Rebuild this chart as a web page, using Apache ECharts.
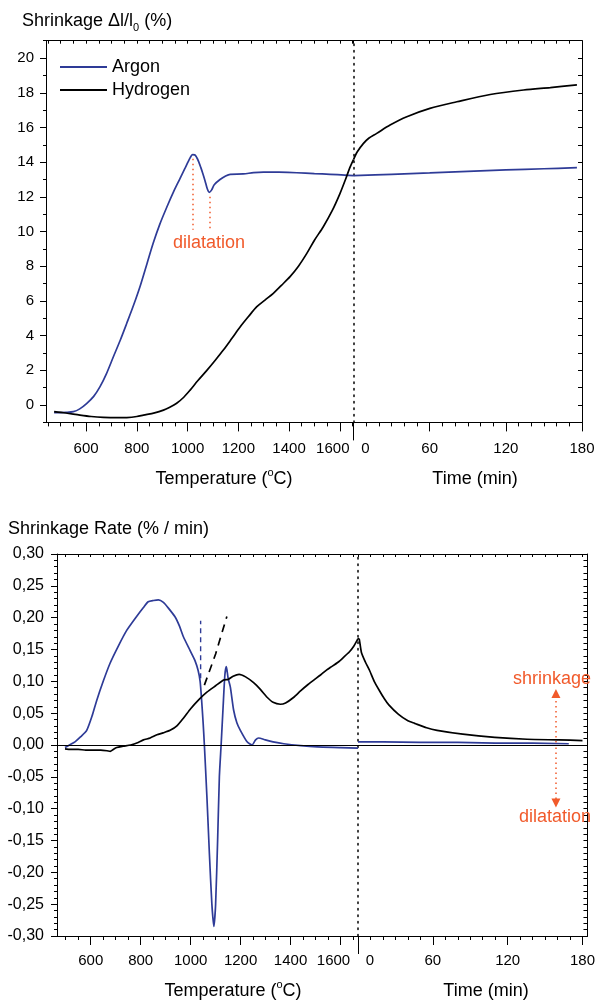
<!DOCTYPE html>
<html><head><meta charset="utf-8">
<script src="https://cdn.jsdelivr.net/npm/echarts@6/dist/echarts.min.js"></script>
<style>html,body{margin:0;padding:0;background:#fff}#c{width:598px;height:1001px}</style>
</head><body><div id="c"></div>
<script>
// ---------------- data ----------------
const tempTicks = [600, 800, 1000, 1200, 1400, 1600];
const timeTicks = [0, 60, 120, 180];
const shrinkTicks = [0, 2, 4, 6, 8, 10, 12, 14, 16, 18, 20];
const rateTicks = [-0.30, -0.25, -0.20, -0.15, -0.10, -0.05, 0, 0.05, 0.10, 0.15, 0.20, 0.25, 0.30];

// Shrinkage (%) vs temperature (°C) and vs time (min)
const argonShrinkTemp = [[474,-0.44],[520,-0.42],[550,-0.38],[575,-0.22],[603,0.1],[630,0.5],[655,1.06],[680,1.8],[708,2.8],[735,3.75],[760,4.7],[787,5.75],[813,6.85],[840,8.15],[865,9.35],[890,10.4],[918,11.4],[945,12.3],[970,13.05],[990,13.65],[1003,14.05],[1012,14.3],[1020,14.43],[1028,14.42],[1036,14.27],[1044,14.02],[1052,13.7],[1060,13.35],[1069,12.92],[1078,12.45],[1086,12.26],[1095,12.4],[1105,12.7],[1128,13.0],[1150,13.2],[1168,13.3],[1220,13.32],[1260,13.4],[1299,13.43],[1360,13.42],[1430,13.39],[1500,13.34],[1562,13.3],[1620,13.25],[1654,13.22]];
const argonShrinkTime = [[0,13.22],[30,13.3],[60,13.38],[90,13.47],[120,13.55],[150,13.62],[176,13.68]];
const hydrogenShrinkTemp = [[474,-0.38],[520,-0.46],[576,-0.58],[620,-0.66],[668,-0.71],[720,-0.73],[760,-0.72],[800,-0.66],[826,-0.58],[870,-0.45],[905,-0.29],[930,-0.12],[957,0.1],[985,0.45],[1010,0.86],[1040,1.4],[1076,2.0],[1110,2.6],[1141,3.17],[1175,3.85],[1207,4.5],[1240,5.1],[1273,5.67],[1305,6.05],[1338,6.44],[1370,6.9],[1404,7.4],[1437,8.0],[1470,8.74],[1500,9.5],[1535,10.28],[1570,11.2],[1601,12.2],[1625,13.1],[1640,13.7],[1654,14.15]];
const hydrogenShrinkTime = [[0,14.15],[3,14.6],[7.7,15.07],[12,15.38],[18.3,15.66],[28.8,16.14],[42,16.62],[60.2,17.1],[81.4,17.48],[107.7,17.9],[134,18.16],[155,18.3],[176,18.45]];

// Shrinkage rate (%/min) vs temperature and vs time
const argonRateTemp = [[497,-0.004],[515,0.0],[537,0.005],[560,0.013],[584,0.023],[605,0.045],[624,0.07],[650,0.1],[677,0.128],[710,0.155],[744,0.18],[780,0.2],[811,0.216],[830,0.225],[851,0.227],[871,0.228],[891,0.224],[911,0.215],[938,0.201],[955,0.187],[971,0.17],[997,0.149],[1017,0.133],[1030,0.117],[1038,0.1],[1044,0.07],[1050,0.035],[1055,0],[1065,-0.08],[1075,-0.17],[1085,-0.25],[1093,-0.285],[1100,-0.25],[1108,-0.15],[1115,-0.05],[1122,0],[1130,0.06],[1137,0.11],[1143,0.123],[1150,0.105],[1159,0.091],[1172,0.055],[1185,0.035],[1199,0.023],[1226,0.005],[1246,0.0],[1260,0.008],[1272,0.011],[1299,0.008],[1330,0.005],[1373,0.002],[1440,-0.001],[1507,-0.003],[1600,-0.004],[1670,-0.005]];
const argonRateTime = [[0,0.005],[20,0.005],[50,0.004],[80,0.004],[110,0.003],[140,0.003],[169,0.002]];
const hydrogenRateTemp = [[497,-0.006],[520,-0.007],[550,-0.007],[580,-0.008],[610,-0.008],[640,-0.008],[665,-0.009],[678,-0.01],[690,-0.007],[704,-0.004],[730,-0.002],[760,0.0],[790,0.004],[811,0.008],[838,0.011],[865,0.016],[890,0.019],[918,0.023],[945,0.03],[971,0.042],[1000,0.057],[1032,0.071],[1065,0.083],[1100,0.093],[1132,0.102],[1150,0.103],[1170,0.108],[1194,0.111],[1220,0.107],[1252,0.098],[1280,0.087],[1306,0.075],[1330,0.067],[1359,0.064],[1380,0.066],[1413,0.075],[1440,0.085],[1470,0.095],[1493,0.102],[1520,0.11],[1545,0.118],[1560,0.122],[1590,0.13],[1613,0.138],[1635,0.146],[1653,0.155],[1670,0.167]];
const hydrogenRateTime = [[0,0.168],[1,0.166],[2.8,0.145],[6,0.13],[9.3,0.117],[13,0.1],[17,0.086],[21,0.073],[24.7,0.063],[32.5,0.048],[40,0.038],[45.4,0.034],[55,0.027],[63.4,0.023],[84,0.017],[109.7,0.012],[135.5,0.009],[161,0.008],[180,0.007]];

// guide lines
const argonOnsetLine = [[1040,0.105],[1040,0.195]];
const hydrogenTrendLine = [[1055,0.094],[1100,0.143],[1145,0.202]];
const dilatationPeak = [[1020,14.2],[1020,10.1]];
const dilatationDip = [[1086,12.0],[1086,10.0]];
const rateArrowTime = 158.7;
const rateArrowUp = 0.081;
const rateArrowDown = -0.091;

// ---------------- chart ----------------
const FONT = '"Liberation Sans", Arial, sans-serif';
const BLUE = '#2e3b97';
const ORANGE = '#f15a2b';

function steps(lo, hi, step) {
  const out = [];
  for (let k = Math.ceil(lo / step - 1e-9); k <= Math.floor(hi / step + 1e-9); k++) out.push(+(k * step).toFixed(6));
  return out;
}

const P = {
  top: {top: 40.7, height: 381.7, left: 46, brk: 353.5, right: 582, tMin: 442, tMax: 1654, timeMax: 180,
        yMin: -1, yMax: 21, yMajor: shrinkTicks, yMinorStep: 1, yRightStep: 1, yFont: 15, yMargin: 12,
        yFmt: v => String(v), xMargin: 19},
  bot: {top: 554, height: 382, left: 57, brk: 358, right: 596, tMin: 465, tMax: 1670, timeMax: 184,
        yMin: -0.3, yMax: 0.3, yMajor: rateTicks, yMinorStep: 0.01, yRightStep: 0.01, yFont: 16, yMargin: 13,
        yFmt: v => { const s = Math.abs(v).toFixed(2).replace('.', ','); return v < -1e-9 ? '-' + s : s; }, xMargin: 17}
};

const grids = [], xAxes = [], yAxes = [];
const blackLine = () => ({show: true, onZero: false, lineStyle: {color: '#000', width: 1}});
const hidden = {splitLine: {show: false}, axisLine: {show: false, onZero: false}, axisTick: {show: false}, axisLabel: {show: false}};
function addX(o) { xAxes.push(Object.assign({type: 'value'}, hidden, o)); return xAxes.length - 1; }
function addY(o) { yAxes.push(Object.assign({type: 'value'}, hidden, o)); return yAxes.length - 1; }

function panel(p) {
  const gL = grids.length;
  grids.push({left: p.left, top: p.top, width: p.brk - p.left, height: p.height, containLabel: false});
  const gR = grids.length;
  grids.push({left: p.brk, top: p.top, width: p.right - p.brk, height: p.height, containLabel: false});
  const tk = {color: '#000', width: 1};
  const lbl = {color: '#000', fontSize: 15, fontFamily: FONT};
  const r = {};
  // temperature grid
  r.xL = addX({gridIndex: gL, min: p.tMin, max: p.tMax, position: 'bottom', axisLine: blackLine(),
    axisTick: {show: true, length: 9, customValues: tempTicks, lineStyle: tk},
    axisLabel: Object.assign({show: true, customValues: tempTicks, margin: p.xMargin,
      formatter: v => v === 1600 ? '{l|1600}' : '{n|' + v + '}',
      rich: {l: Object.assign({padding: [0, 14, 0, 0]}, lbl), n: Object.assign({}, lbl)}}, lbl)});
  addX({gridIndex: gL, min: p.tMin, max: p.tMax, position: 'bottom',
    axisTick: {show: true, length: 4, customValues: steps(p.tMin, p.tMax, 50), lineStyle: tk}});
  addX({gridIndex: gL, min: p.tMin, max: p.tMax, position: 'top', axisLine: blackLine(),
    axisTick: {show: true, inside: true, length: 3, customValues: steps(p.tMin, p.tMax, 50), lineStyle: tk}});
  r.yL = addY({gridIndex: gL, min: p.yMin, max: p.yMax, position: 'left', axisLine: blackLine(),
    axisTick: {show: true, length: 6, customValues: p.yMajor, lineStyle: tk},
    axisLabel: {show: true, customValues: p.yMajor, margin: p.yMargin, color: '#000', fontSize: p.yFont, fontFamily: FONT, formatter: p.yFmt}});
  addY({gridIndex: gL, min: p.yMin, max: p.yMax, position: 'left',
    axisTick: {show: true, length: 3, customValues: steps(p.yMin, p.yMax, p.yMinorStep), lineStyle: tk}});
  // time grid
  r.xR = addX({gridIndex: gR, min: 0, max: p.timeMax, position: 'bottom', axisLine: blackLine(),
    axisTick: {show: true, length: 9, customValues: timeTicks, lineStyle: tk},
    axisLabel: Object.assign({show: true, customValues: timeTicks, margin: p.xMargin,
      formatter: v => v === 0 ? '{z|0}' : '{n|' + v + '}',
      rich: {z: Object.assign({padding: [0, 0, 0, 24]}, lbl), n: Object.assign({}, lbl)}}, lbl)});
  addX({gridIndex: gR, min: 0, max: p.timeMax, position: 'bottom',
    axisTick: {show: true, length: 4, customValues: steps(0, p.timeMax, 10), lineStyle: tk}});
  addX({gridIndex: gR, min: 0, max: p.timeMax, position: 'bottom',
    axisTick: {show: true, length: 18, customValues: [0], lineStyle: tk}});
  addX({gridIndex: gR, min: 0, max: p.timeMax, position: 'top', axisLine: blackLine(),
    axisTick: {show: true, inside: true, length: 3, customValues: steps(0, p.timeMax, 10), lineStyle: tk}});
  r.yR = addY({gridIndex: gR, min: p.yMin, max: p.yMax, position: 'left',
    axisLine: {show: true, onZero: false, lineStyle: {color: '#000', width: 1.5, type: [1.5, 5]}}});
  addY({gridIndex: gR, min: p.yMin, max: p.yMax, position: 'right', axisLine: blackLine(),
    axisTick: {show: true, inside: true, length: 4, customValues: steps(p.yMin, p.yMax, p.yRightStep), lineStyle: tk}});
  return r;
}

const A = panel(P.top);
const B = panel(P.bot);

function line(name, data, xi, yi, color, extra) {
  return Object.assign({type: 'line', name, data, xAxisIndex: xi, yAxisIndex: yi, symbol: 'none', showSymbol: false,
    legendIcon: 'line',
    lineStyle: {color, width: 1.7}, itemStyle: {color}, z: 3, silent: true}, extra || {});
}

const dotted = {color: ORANGE, width: 1.5, type: [1.5, 3.5]};
const series = [
  line('Argon', argonShrinkTemp, A.xL, A.yL, BLUE, {smooth: 0.3,
    markLine: {silent: true, symbol: 'none', label: {show: false}, lineStyle: dotted,
      data: [[{coord: dilatationPeak[0]}, {coord: dilatationPeak[1]}], [{coord: dilatationDip[0]}, {coord: dilatationDip[1]}]]}}),
  line('Argon', argonShrinkTime, A.xR, A.yR, BLUE, {smooth: 0.3}),
  line('Hydrogen', hydrogenShrinkTemp, A.xL, A.yL, '#000', {smooth: 0.3}),
  line('Hydrogen', hydrogenShrinkTime, A.xR, A.yR, '#000', {smooth: 0.3}),
  line('Argon', argonRateTemp, B.xL, B.yL, BLUE, {smooth: 0.2,
    markLine: {silent: true, symbol: 'none', label: {show: false}, lineStyle: {color: '#000', width: 1, type: 'solid'},
      data: [{yAxis: 0}]}}),
  line('Argon', argonRateTime, B.xR, B.yR, BLUE, {
    markLine: {silent: true, symbol: 'none', label: {show: false}, lineStyle: {color: '#000', width: 1, type: 'solid'},
      data: [{yAxis: 0}]}}),
  line('Hydrogen', hydrogenRateTemp, B.xL, B.yL, '#000', {smooth: 0.2}),
  line('Hydrogen', hydrogenRateTime, B.xR, B.yR, '#000', {smooth: 0.2,
    markLine: {silent: true, symbol: ['none', 'triangle'], symbolSize: 9, label: {show: false}, lineStyle: dotted,
      data: [[{coord: [rateArrowTime, 0.004]}, {coord: [rateArrowTime, rateArrowUp]}],
             [{coord: [rateArrowTime, -0.004]}, {coord: [rateArrowTime, rateArrowDown]}]]}}),
  line('onset', argonOnsetLine, B.xL, B.yL, BLUE, {lineStyle: {color: BLUE, width: 1.4, type: [5, 4]}}),
  line('trend', hydrogenTrendLine, B.xL, B.yL, '#000', {lineStyle: {color: '#000', width: 1.7, type: [8, 6]}})
];

function txt(x, y, text, opt) {
  return {type: 'text', x, y, silent: true, z: 10, style: Object.assign({
    text, fill: '#000', fontSize: 18, fontFamily: FONT, lineHeight: 24,
    align: 'left', verticalAlign: 'middle', textAlign: 'left', textVerticalAlign: 'middle'}, opt || {})};
}
const sub = {sub: {fontSize: 11, lineHeight: 10, verticalAlign: 'bottom', fontFamily: FONT, fill: '#000'}};
const sup = {sup: {fontSize: 11, lineHeight: 12, verticalAlign: 'top', fontFamily: FONT, fill: '#000'}};
const center = {align: 'center', textAlign: 'center'};

const graphics = [
  txt(22, 21, 'Shrinkage \u0394l/l{sub|0} (%)', {rich: sub}),
  txt(8, 529, 'Shrinkage Rate (% / min)'),
  txt(224, 479, 'Temperature ({sup|o}C)', Object.assign({rich: sup}, center)),
  txt(475, 479, 'Time (min)', center),
  txt(233, 991, 'Temperature ({sup|o}C)', Object.assign({rich: sup}, center)),
  txt(486, 991, 'Time (min)', center),
  txt(209, 243, 'dilatation', Object.assign({fill: ORANGE}, center)),
  txt(552, 679, 'shrinkage', Object.assign({fill: ORANGE}, center)),
  txt(555, 817, 'dilatation', Object.assign({fill: ORANGE}, center))
];

const chart = echarts.init(document.getElementById('c'), null, {renderer: 'canvas'});
chart.setOption({
  animation: false,
  backgroundColor: '#fff',
  grid: grids,
  xAxis: xAxes,
  yAxis: yAxes,
  legend: {data: ['Argon', 'Hydrogen'], orient: 'vertical', left: 59, top: 58, padding: 0,
    itemWidth: 47, itemHeight: 14, itemGap: 5, selectedMode: false,
    itemStyle: {opacity: 0, borderWidth: 0},
    textStyle: {fontSize: 18, fontFamily: FONT, color: '#000'}},
  series,
  graphic: graphics
});
</script>
</body></html>
